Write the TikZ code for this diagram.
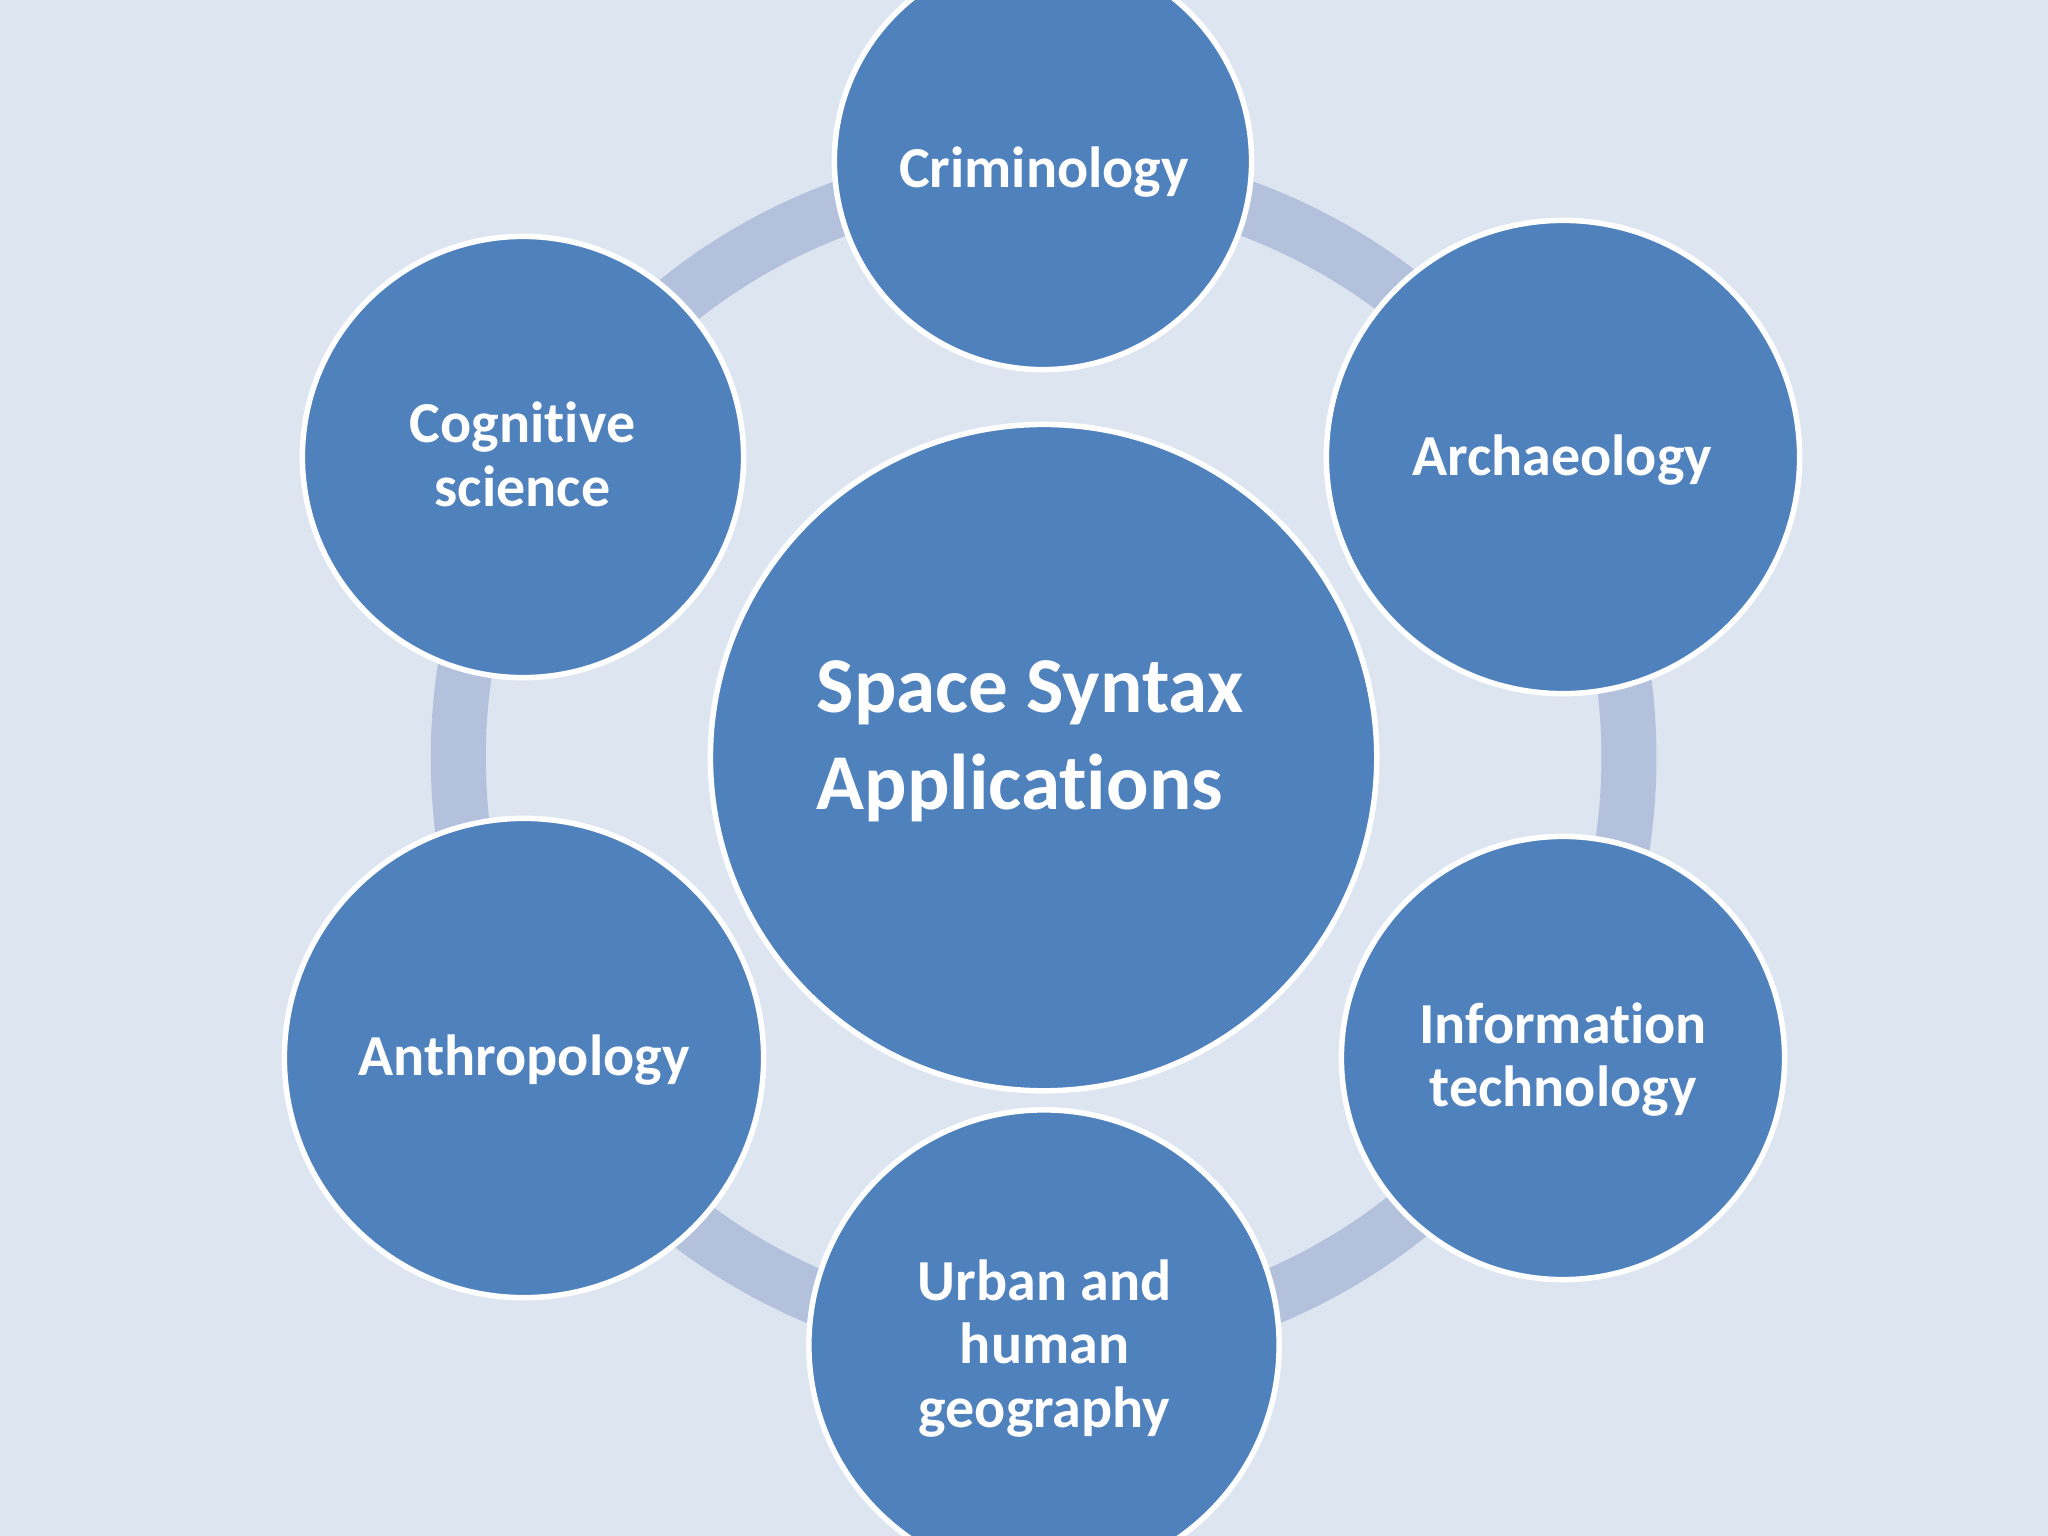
\documentclass[tikz,border=0pt]{standalone}
\usepackage{fontspec}
\setmainfont{Carlito}[Ligatures=NoCommon]
\usetikzlibrary{shapes.geometric}
\definecolor{bgcol}{HTML}{DDE5F1}
\definecolor{ringcol}{HTML}{B4C1DD}
\definecolor{discol}{HTML}{4F81BD}
\tikzset{
  disc/.style={circle, fill=discol, draw=white, line width=0.055cm, inner sep=0pt},
  sattext/.style={text=white, inner sep=0pt, align=center, font=\fontsize{16.5}{18.1}\selectfont\bfseries},
  hubtext/.style={text=white, inner sep=0pt, align=left, font=\fontsize{22.5}{27.6}\selectfont\bfseries},
}
\begin{document}
\begin{tikzpicture}[x=0.01cm, y=-0.01cm]
\fill[bgcol] (0,0) rectangle (2048,1536);
\useasboundingbox (0,0) rectangle (2048,1536);
% ring
\coordinate (ringc) at (1043.6,757.6);
\draw[ringcol, line width=0.55cm] (ringc) circle[radius=5.85cm];
% discs
\node[disc, minimum size=6.66cm] (hub) at (1043.6,757.6) {};
\node[disc, minimum size=4.17cm] (crim) at (1043,161) {};
\node[disc, minimum size=4.73cm] (arch) at (1563,457) {};
\node[disc, minimum size=4.43cm] (info) at (1563,1058) {};
\node[disc, minimum size=4.70cm] (urban) at (1044,1345) {};
\node[disc, minimum size=4.79cm] (anth) at (524,1058) {};
\node[disc, minimum size=4.41cm] (cog) at (523,457) {};
% texts
\node[hubtext, anchor=west] (hubT) at (816,741) {Space Syntax\\Applications};
\node[sattext, anchor=base] (crimT) at (1044,187) {Criminology};
\node[sattext, anchor=base] (archT) at (1562,475) {Archaeology};
\node[sattext] (infoT) at (1563,1059.5) {Information\\technology};
\node[sattext] (urbanT) at (1044.5,1348.5) {Urban and\\human\\geography};
\node[sattext, anchor=base] (anthT) at (524,1075) {Anthropology};
\node[sattext] (cogT) at (522.5,454.5) {Cognitive\\science};
\end{tikzpicture}
\end{document}
